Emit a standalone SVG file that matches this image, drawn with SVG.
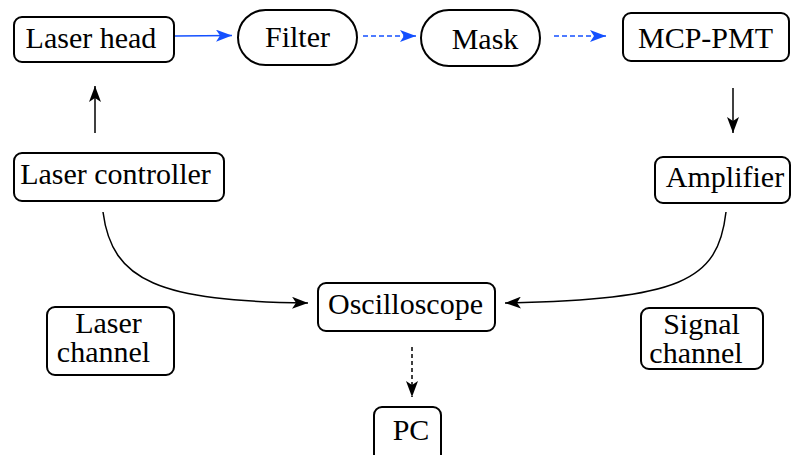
<svg xmlns="http://www.w3.org/2000/svg" width="794" height="455" viewBox="0 0 794 455">
<style>
.box{fill:#fff;stroke:#000;stroke-width:2}
.bl{stroke:#1450ff;stroke-width:1.6;fill:none}
.bk{stroke:#000;stroke-width:1.5;fill:none}
</style>
<defs>
<marker id="ab" viewBox="0 0 16 12" refX="16" refY="6" markerWidth="16" markerHeight="12" markerUnits="userSpaceOnUse" orient="auto"><path d="M0,0 L16,6 L0,12 L4,6 Z" fill="#1450ff"/></marker>
<marker id="ak" viewBox="0 0 16 12" refX="16" refY="6" markerWidth="16" markerHeight="12" markerUnits="userSpaceOnUse" orient="auto"><path d="M0,0 L16,6 L0,12 L4,6 Z" fill="#000"/></marker>
</defs>
<g id="connectors">
<path class="bl" d="M175,36 L232,35.5" marker-end="url(#ab)"/>
<path class="bl" d="M363,36 L416,36" stroke-dasharray="5,3" marker-end="url(#ab)"/>
<path class="bl" d="M554,36 L606,36" stroke-dasharray="5,3" marker-end="url(#ab)"/>
<path class="bk" d="M95,133 L95,86" marker-end="url(#ak)"/>
<path class="bk" d="M733,88 L733,133" marker-end="url(#ak)"/>
<path class="bk" d="M103,212 C112,282 160,301 308,303" marker-end="url(#ak)"/>
<path class="bk" d="M726,212 C718,282 680,299 505,303" marker-end="url(#ak)"/>
<path class="bk" d="M412,347 L412,397" stroke-dasharray="4,3" marker-end="url(#ak)"/>
</g>
<g id="laser-head"><rect class="box" x="14" y="17" width="160" height="45" rx="8"/><text font-family="'Liberation Serif'" font-size="30" text-anchor="middle" x="91" y="48">Laser head</text></g>
<g id="filter"><rect class="box" x="238" y="10" width="119" height="55" rx="27.5"/><text font-family="'Liberation Serif'" font-size="30" text-anchor="middle" x="297.5" y="47">Filter</text></g>
<g id="mask"><rect class="box" x="421" y="10" width="119" height="56" rx="28"/><text font-family="'Liberation Serif'" font-size="30" text-anchor="middle" x="485" y="49">Mask</text></g>
<g id="mcp-pmt"><rect class="box" x="623" y="13" width="166" height="48" rx="8"/><text font-family="'Liberation Serif'" font-size="30" text-anchor="middle" x="705.5" y="48">MCP-PMT</text></g>
<g id="laser-controller"><rect class="box" x="14" y="153" width="210" height="48" rx="8"/><text font-family="'Liberation Serif'" font-size="30" text-anchor="middle" x="115.5" y="184">Laser controller</text></g>
<g id="amplifier"><rect class="box" x="655" y="157" width="135" height="46" rx="8"/><text font-family="'Liberation Serif'" font-size="30" text-anchor="middle" x="725" y="187">Amplifier</text></g>
<g id="oscilloscope"><rect class="box" x="318" y="283" width="177" height="48" rx="8"/><text font-family="'Liberation Serif'" font-size="30" text-anchor="middle" x="405.5" y="314">Oscilloscope</text></g>
<g id="laser-channel"><rect class="box" x="47" y="307" width="127" height="68" rx="8"/><text font-family="'Liberation Serif'" font-size="30" text-anchor="middle" x="108.5" y="333">Laser</text><text font-family="'Liberation Serif'" font-size="30" text-anchor="middle" x="103.5" y="362">channel</text></g>
<g id="signal-channel"><rect class="box" x="641" y="308" width="122" height="61" rx="8"/><text font-family="'Liberation Serif'" font-size="30" text-anchor="middle" x="701.5" y="334">Signal</text><text font-family="'Liberation Serif'" font-size="30" text-anchor="middle" x="696" y="363">channel</text></g>
<g id="pc"><rect class="box" x="374" y="407" width="67" height="60" rx="8"/><text font-family="'Liberation Serif'" font-size="30" text-anchor="middle" x="411" y="440">PC</text></g>
</svg>
